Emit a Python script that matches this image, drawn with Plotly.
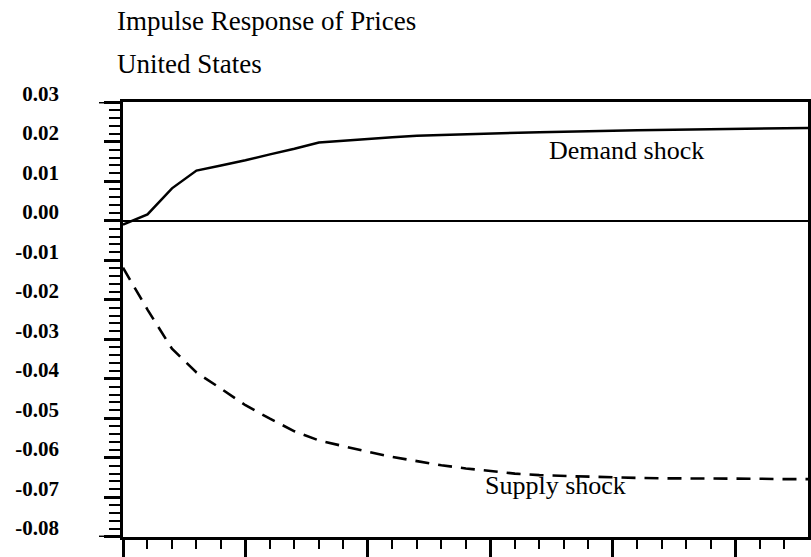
import plotly.graph_objects as go

# Horizon (quarters)
horizon = list(range(0, 29))

# Impulse responses
demand_shock = [-0.0010, 0.0016, 0.0082, 0.0127, 0.0140, 0.0153, 0.0168, 0.0182,
                0.0198, 0.0203, 0.0207, 0.0211, 0.0215, 0.0217, 0.0219, 0.0221,
                0.0223, 0.0224, 0.0225, 0.0227, 0.0228, 0.0229, 0.0230, 0.0231,
                0.0232, 0.0233, 0.0234, 0.0234, 0.0235]
supply_shock = [-0.0119, -0.0225, -0.0324, -0.0384, -0.0425, -0.0467, -0.0501, -0.0533,
                -0.0556, -0.0571, -0.0585, -0.0598, -0.0609, -0.0619, -0.0627, -0.0634,
                -0.0640, -0.0644, -0.0646, -0.0648, -0.0650, -0.0651, -0.0652, -0.0652,
                -0.0653, -0.0653, -0.0653, -0.0654, -0.0654]

y_tick_values = [0.03, 0.02, 0.01, 0.00, -0.01, -0.02, -0.03, -0.04, -0.05, -0.06, -0.07, -0.08]
y_tick_labels = ["0.03", "0.02", "0.01", "0.00", "-0.01", "-0.02", "-0.03", "-0.04",
                 "-0.05", "-0.06", "-0.07", "-0.08"]

title_lines = ["Impulse Response of Prices", "United States"]
series_labels = ["Demand shock", "Supply shock"]

FONT = "Liberation Serif, Times New Roman, serif"
W, H = 811, 557
ML, MR, MT, MB = 123, 3, 102, 20
PW = W - ML - MR
PH = H - MT - MB

fig = go.Figure()
fig.add_trace(go.Scatter(x=horizon, y=demand_shock, mode="lines",
                         line=dict(color="black", width=2.5), name=series_labels[0],
                         showlegend=False, cliponaxis=False))
fig.add_trace(go.Scatter(x=horizon, y=supply_shock, mode="lines",
                         line=dict(color="black", width=2.6, dash="14px,9px"),
                         name=series_labels[1], showlegend=False))

# series labels
fig.add_annotation(x=17.3, y=0.0178, xref="x", yref="y", text=series_labels[0],
                   showarrow=False, xanchor="left", yanchor="middle",
                   font=dict(family=FONT, size=26, color="black"))
fig.add_annotation(x=14.7, y=-0.0670, xref="x", yref="y", text=series_labels[1],
                   showarrow=False, xanchor="left", yanchor="middle",
                   font=dict(family=FONT, size=26, color="black"))

# titles
for i, (txt, ypix) in enumerate(zip(title_lines, [21, 64.5])):
    fig.add_annotation(x=(115 - ML) / PW, y=(H - MB - ypix) / PH, xref="paper", yref="paper",
                       text=txt, showarrow=False, xanchor="left", yanchor="middle",
                       font=dict(family=FONT, size=27, color="black"))

# long end ticks at top and bottom of y-axis
for yv in (y_tick_values[0], y_tick_values[-1]):
    fig.add_shape(type="line", xref="paper", yref="y", x0=-24 / PW, x1=0, y0=yv, y1=yv,
                  line=dict(color="black", width=2.5))

fig.update_xaxes(range=[0, 27.97], showline=True, linecolor="black", linewidth=2.5,
                 mirror=True, showgrid=False, zeroline=False, automargin=False,
                 ticks="outside", dtick=5, tick0=0, ticklen=20, tickwidth=2.5,
                 tickcolor="black", showticklabels=False,
                 minor=dict(dtick=1, tick0=0, ticks="outside", ticklen=9, tickwidth=2.2,
                            tickcolor="black", showgrid=False))
fig.update_yaxes(range=[-0.08005, 0.03005], showline=True, linecolor="black", linewidth=2.5,
                 mirror=True, showgrid=False, zeroline=True, zerolinecolor="black",
                 zerolinewidth=1.8, automargin=False,
                 ticks="outside", tickmode="array", tickvals=y_tick_values,
                 ticktext=y_tick_labels, ticklen=16, tickwidth=2.5, tickcolor="black",
                 ticklabelshift=-9, ticklabelstandoff=41,
                 tickfont=dict(family=FONT, size=21, color="black", weight="bold"),
                 minor=dict(dtick=0.002, tick0=0, ticks="outside", ticklen=11,
                            tickwidth=2.2, tickcolor="black", showgrid=False))

fig.update_layout(width=W, height=H, margin=dict(l=ML, r=MR, t=MT, b=MB, autoexpand=False),
                  paper_bgcolor="white", plot_bgcolor="white", showlegend=False)

fig.write_html("out.html", config={"displayModeBar": False},
               post_script="document.body.style.margin='0';document.body.style.overflow='hidden';")
